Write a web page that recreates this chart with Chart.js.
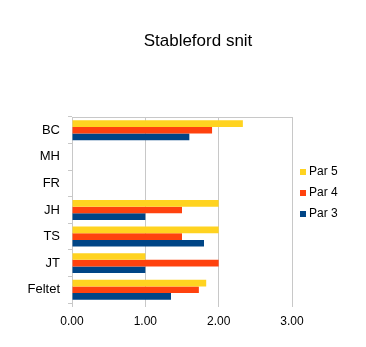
<!DOCTYPE HTML>
<html>
<head>
  <meta charset="utf-8">
  <script src="https://cdn.jsdelivr.net/npm/chart.js@4.4.0/dist/chart.umd.min.js"></script>
  <style>
    html, body { margin: 0; padding: 0; background: #fff; }
    #wrap { width: 366px; height: 347px; position: relative; }
  </style>
</head>
<body>
  <div id="wrap"><canvas id="myChart" width="366" height="347"></canvas></div>

  <script>
    //-------------------------------------
    var chartTitle = "Stableford snit";
    var players = ["BC", "MH", "FR", "JH", "TS", "JT", "Feltet"];
    var seriesNames = ["Par 5", "Par 4", "Par 3"];
    var par5 = [2.33, null, null, 2.0, 2.0, 1.0, 1.83];
    var par4 = [1.91, null, null, 1.5, 1.5, 2.0, 1.73];
    var par3 = [1.60, null, null, 1.0, 1.8, 1.0, 1.35];
    var xTicks = [0, 1, 2, 3];
    //-------------------------------------

    var colors = ["#ffd320", "#ff420e", "#004586"];
    var gridColor = "#c8c8c8";
    var font = "'Liberation Sans', Arial, sans-serif";

    // title, legend and plot frame drawn by hand to match positions
    var extras = {
      id: "extras",
      afterDraw: function(chart) {
        var ctx = chart.ctx;
        var a = chart.chartArea;
        ctx.save();
        ctx.strokeStyle = gridColor;
        ctx.lineWidth = 1;
        ctx.beginPath();
        ctx.moveTo(a.left, Math.round(a.top) + 0.5);
        ctx.lineTo(a.right, Math.round(a.top) + 0.5);
        ctx.stroke();

        ctx.fillStyle = "#000";
        ctx.font = "17px " + font;
        ctx.textAlign = "center";
        ctx.textBaseline = "alphabetic";
        ctx.fillText(chartTitle, 198, 46);

        ctx.font = "12px " + font;
        ctx.textAlign = "left";
        ctx.textBaseline = "middle";
        var ys = [172, 193, 214];
        chart.data.datasets.forEach(function(ds, i) {
          ctx.fillStyle = ds.backgroundColor;
          ctx.fillRect(300, ys[i] - 3, 6, 6);
          ctx.fillStyle = "#000";
          ctx.fillText(ds.label, 309, ys[i]);
        });
        ctx.restore();
      }
    };

    var ctx = document.getElementById('myChart').getContext('2d');
    var myChart = new Chart(ctx, {
      type: 'bar',
      data: {
        labels: players,
        datasets: [
          { label: seriesNames[0], data: par5, backgroundColor: colors[0] },
          { label: seriesNames[1], data: par4, backgroundColor: colors[1] },
          { label: seriesNames[2], data: par3, backgroundColor: colors[2] }
        ]
      },
      options: {
        indexAxis: 'y',
        responsive: false,
        animation: false,
        datasets: { bar: { categoryPercentage: 0.75, barPercentage: 1.0 } },
        layout: { padding: { left: 0, right: 74, top: 117, bottom: 0 } },
        plugins: {
          legend: { display: false },
          title: { display: false },
          tooltip: { enabled: false }
        },
        scales: {
          x: {
            min: 0,
            max: 3,
            afterFit: function(s) { s.height = 44; },
            afterBuildTicks: function(s) { s.ticks = xTicks.map(function(v) { return { value: v }; }); },
            grid: { color: gridColor, tickLength: 4, drawTicks: true },
            border: { display: false },
            ticks: {
              color: "#000",
              padding: 7,
              font: { family: font, size: 12 },
              callback: function(v) { return Number(v).toFixed(2); }
            }
          },
          y: {
            afterFit: function(s) { s.width = 72; },
            grid: { drawOnChartArea: false, color: gridColor, tickLength: 4, offset: true },
            border: { display: true, color: gridColor },
            ticks: {
              color: "#000",
              padding: 8,
              font: { family: font, size: 13 }
            }
          }
        }
      },
      plugins: [extras]
    });
  </script>
</body>
</html>
